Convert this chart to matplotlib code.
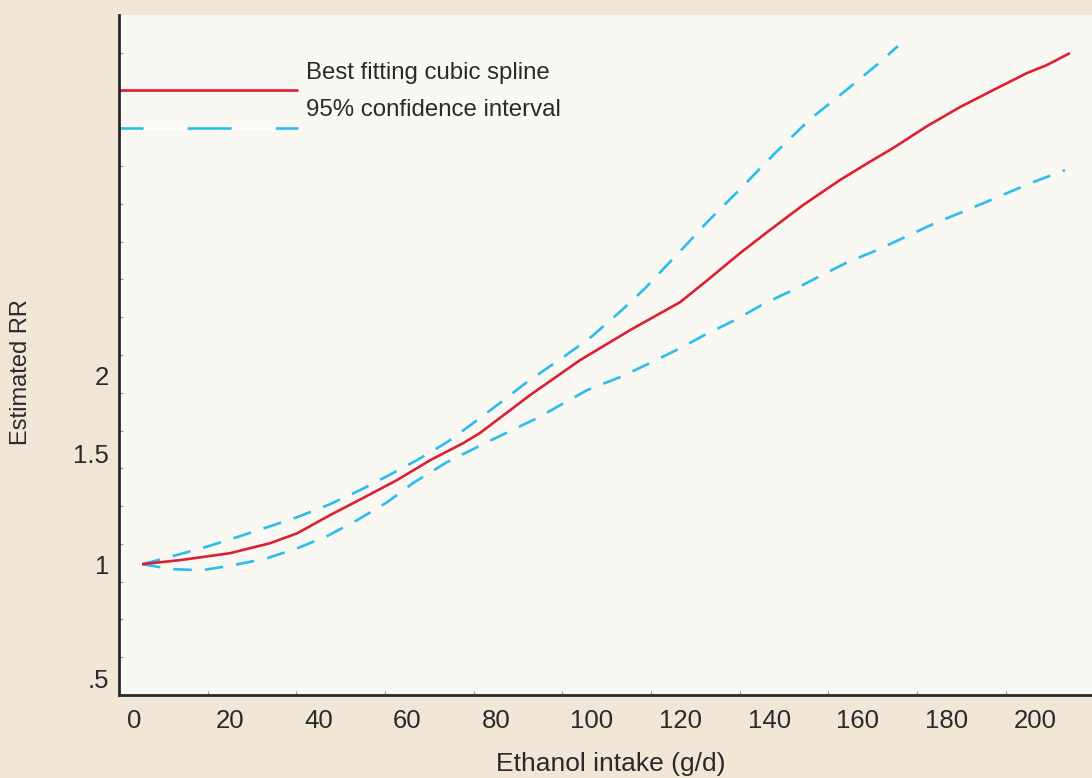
import numpy as np
import matplotlib
matplotlib.use("Agg")
import matplotlib.pyplot as plt
from matplotlib.transforms import ScaledTranslation
from matplotlib.ticker import FixedLocator, NullFormatter

# Dati (assunzione in g/d, RR stimato)
x_spline = [5.2, 13.8, 25.0, 34.1, 40.2, 47.6, 55.0, 62.7, 70.2, 77.6, 81.4, 92.7,
            104.0, 115.3, 126.6, 133.3, 140.1, 146.8, 154.3, 162.6, 169.4, 174.6,
            182.3, 189.7, 197.2, 204.8, 209.3, 214.5]
rr_spline = [1.000, 1.015, 1.041, 1.080, 1.120, 1.197, 1.274, 1.361, 1.464, 1.558,
             1.617, 1.858, 2.113, 2.359, 2.614, 2.854, 3.128, 3.403, 3.730, 4.088,
             4.373, 4.597, 4.984, 5.343, 5.687, 6.053, 6.233, 6.513]

x_upper = [5.2, 10.4, 19.4, 26.6, 33.4, 40.2, 47.6, 54.4, 60.5, 67.2, 74.0, 79.9,
           85.9, 92.0, 100.2, 106.2, 113.7, 118.7, 123.4, 128.1, 132.9, 140.1,
           148.0, 155.9, 164.9, 171.7, 175.7]
rr_upper = [1.000, 1.022, 1.064, 1.104, 1.145, 1.188, 1.246, 1.312, 1.381, 1.464,
            1.564, 1.677, 1.805, 1.949, 2.136, 2.290, 2.548, 2.751, 2.983, 3.233,
            3.518, 3.955, 4.514, 5.113, 5.750, 6.302, 6.683]

x_lower = [5.2, 12.0, 18.7, 25.7, 33.4, 40.2, 46.9, 53.7, 60.5, 66.3, 74.0, 79.9,
           83.0, 94.3, 105.6, 113.0, 120.2, 126.6, 132.9, 139.4, 145.7, 152.0,
           158.1, 164.4, 171.0, 177.3, 184.1, 191.3, 198.7, 206.2, 213.4]
rr_lower = [1.000, 0.982, 0.978, 0.996, 1.022, 1.060, 1.108, 1.175, 1.255, 1.346,
            1.454, 1.525, 1.564, 1.708, 1.893, 1.985, 2.097, 2.208, 2.333, 2.456,
            2.604, 2.731, 2.875, 3.027, 3.163, 3.317, 3.492, 3.663, 3.855, 4.058,
            4.241]

x_ticks = [0, 20, 40, 60, 80, 100, 120, 140, 160, 180, 200]
y_ticks = [0.658, 1, 1.5, 2]
y_tick_labels = [".5", "1", "1.5", "2"]

# Colori
BG = "#F2E6D6"
PANEL = "#FAF8F3"
RED = "#DD1F36"
BLUE = "#2BBDEE"
DARK = "#2A2A2A"

plt.rcParams['font.family'] = ['Liberation Sans', 'DejaVu Sans']

fig = plt.figure(figsize=(10.92, 7.78), dpi=100, facecolor=BG)
ax = fig.add_axes([119/1092, 83/778, 1 - 119/1092, 680/778])
ax.set_facecolor(PANEL)

ax.plot(x_spline, rr_spline, color=RED, lw=1.9, solid_capstyle='butt',
        solid_joinstyle='round', zorder=3)
ax.plot(x_upper, rr_upper, color=BLUE, lw=1.9, dashes=(7, 5), zorder=2)
ax.plot(x_lower, rr_lower, color=BLUE, lw=1.9, dashes=(7, 5), zorder=2)

ax.set_yscale('log')
ax.set_xlim(0, 219.5)
ax.set_ylim(0.619, 7.49)

# Spine
for s in ['top', 'right']:
    ax.spines[s].set_visible(False)
for s in ['left', 'bottom']:
    ax.spines[s].set_color(DARK)
    ax.spines[s].set_linewidth(2.0)

# Tick asse x: etichette allineate a sinistra
ax.set_xticks(x_ticks)
ax.set_xticklabels([str(v) for v in x_ticks])
ax.tick_params(axis='x', direction='in', length=3, width=0.8, color='#9a9a9a',
               labelsize=18.5, labelcolor=DARK, pad=10)
off = ScaledTranslation(8/100, 0, fig.dpi_scale_trans)
for lbl in ax.get_xticklabels():
    lbl.set_horizontalalignment('left')
    lbl.set_transform(lbl.get_transform() + off)

# Tick asse y
ax.yaxis.set_major_locator(FixedLocator(y_ticks))
ax.set_yticklabels(y_tick_labels)
ax.yaxis.set_minor_formatter(NullFormatter())
lo, hi = np.log(0.619), np.log(7.49)
ax.yaxis.set_minor_locator(FixedLocator(np.exp(np.linspace(lo, hi, 19)[1:-1])))
ax.tick_params(axis='y', which='major', length=0, labelsize=18.5,
               labelcolor=DARK, pad=7)
ax.tick_params(axis='y', which='minor', direction='in', length=3, width=0.8,
               color='#9a9a9a')
ax.tick_params(axis='x', which='minor', length=0)

ax.set_xlabel("Ethanol intake (g/d)", fontsize=19, color=DARK)
ax.xaxis.set_label_coords((611 - 119)/973, -57/680)
ax.set_ylabel("Estimated RR", fontsize=17, color=DARK)
ax.yaxis.set_label_coords(-(119 - 32)/973, (695 - 372)/680)

# Legenda manuale
ax.plot([0, 179/973], [(695 - 90)/680] * 2, transform=ax.transAxes,
        color=RED, lw=1.9, solid_capstyle='butt', clip_on=False)
ax.plot([0, 179/973], [(695 - 128)/680] * 2, transform=ax.transAxes,
        color='white', lw=1.9, solid_capstyle='butt', clip_on=False)
ax.plot([0, 179/973], [(695 - 128)/680] * 2, transform=ax.transAxes,
        color=BLUE, lw=1.9, linestyle=(7.6, (16.7, 16.7)), dash_capstyle='butt',
        clip_on=False)
ax.text(187/973, (695 - 73)/680, "Best fitting cubic spline", transform=ax.transAxes,
        fontsize=17.3, color=DARK, va='center', ha='left')
ax.text(187/973, (695 - 110)/680, "95% confidence interval", transform=ax.transAxes,
        fontsize=17.3, color=DARK, va='center', ha='left')

fig.savefig("out.png", dpi=100, facecolor=BG)
